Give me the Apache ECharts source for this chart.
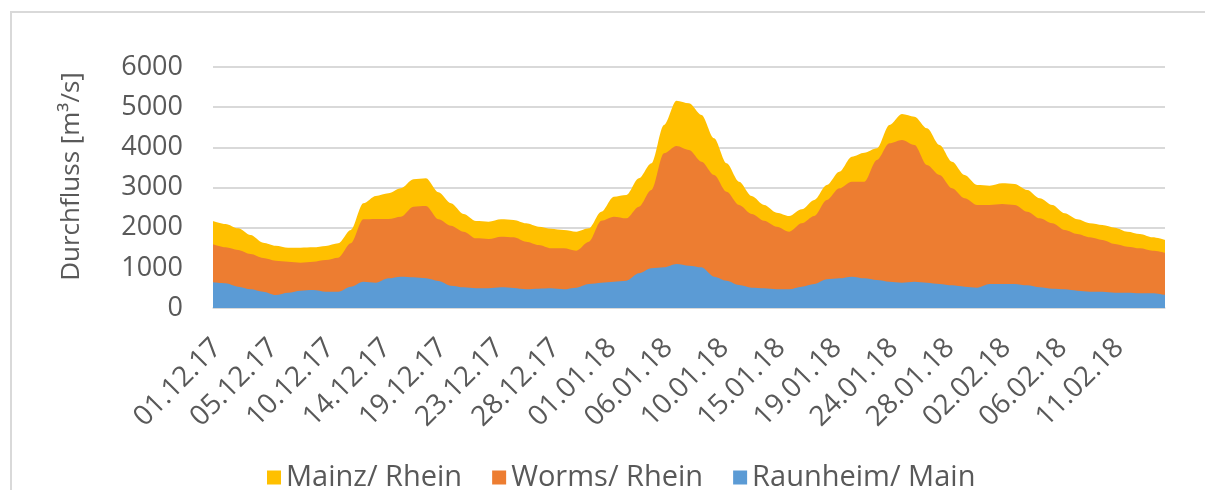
<!DOCTYPE html>
<html>
<head>
<meta charset="utf-8">
<script src="https://cdn.jsdelivr.net/npm/echarts@6/dist/echarts.min.js"></script>
<style>
  html, body { margin: 0; padding: 0; background: #fff; }
  #chart { width: 1205px; height: 490px; }
</style>
</head>
<body>
<div id="chart"></div>
<script>
// daily readings, day 0 = 01.12.17
const mainz = [
  2166, 2091, 1983, 1817, 1627, 1552, 1502, 1502, 1510, 1544,
  1610, 1942, 2606, 2788, 2855, 2979, 3203, 3228, 2880, 2606,
  2340, 2166, 2149, 2207, 2191, 2108, 2025, 1975, 1942, 1900,
  1983, 2398, 2772, 2813, 3228, 3602, 4556, 5162, 5095, 4805,
  4224, 3602, 3145, 2788, 2564, 2373, 2290, 2456, 2689, 3062,
  3394, 3768, 3867, 3975, 4556, 4830, 4763, 4473, 4058, 3643,
  3311, 3062, 3046, 3104, 3087, 2938, 2730, 2564, 2357, 2207,
  2108, 2066, 2000, 1900, 1842, 1759, 1693
]
const worms = [
  1585, 1510, 1444, 1344, 1245, 1178, 1154, 1129, 1154, 1195,
  1253, 1610, 2207, 2216, 2216, 2274, 2523, 2539, 2210, 2050,
  1900, 1734, 1718, 1776, 1759, 1651, 1568, 1485, 1485, 1427,
  1651, 2174, 2274, 2232, 2523, 2938, 3851, 4033, 3934, 3643,
  3311, 2896, 2564, 2340, 2174, 2025, 1900, 2108, 2290, 2689,
  2979, 3145, 3145, 3685, 4100, 4183, 4058, 3560, 3311, 2979,
  2730, 2564, 2564, 2589, 2564, 2398, 2232, 2108, 1942, 1842,
  1759, 1693, 1593, 1527, 1485, 1427, 1378
]
const raunheim = [
  639, 614, 531, 465, 407, 324, 382, 432, 448, 407,
  407, 531, 656, 631, 739, 780, 763, 739, 672, 556,
  515, 490, 490, 515, 498, 465, 481, 490, 465, 506,
  598, 631, 656, 680, 863, 988, 1012, 1095, 1054, 1012,
  780, 680, 573, 506, 490, 465, 465, 531, 598, 714,
  739, 780, 739, 697, 656, 631, 656, 631, 598, 564,
  531, 506, 598, 598, 598, 564, 515, 481, 465, 432,
  407, 407, 382, 382, 365, 365, 324
]
const xLabels = [
  '01.12.17', '05.12.17', '10.12.17', '14.12.17', '19.12.17', '23.12.17',
  '28.12.17', '01.01.18', '06.01.18', '10.01.18', '15.01.18', '19.01.18',
  '24.01.18', '28.01.18', '02.02.18', '06.02.18', '11.02.18'
]
const days = mainz.map((_, i) => i)

const chart = echarts.init(document.getElementById('chart'))
const font = 'Open Sans'

function areaSeries(name, values, color) {
  return {
    name,
    type: 'line',
    data: days.map((d, i) => [d, values[i]]),
    symbol: 'none',
    smooth: 0.3,
    smoothMonotone: 'x',
    lineStyle: { width: 0 },
    itemStyle: { color },
    areaStyle: { color, opacity: 1 },
  }
}

chart.setOption({
  backgroundColor: '#fff',
  animation: false,
  graphic: [{
    type: 'rect',
    shape: { x: 11, y: 12, width: 1220, height: 520 },
    style: { fill: 'none', stroke: '#d9d9d9', lineWidth: 2 },
    silent: true,
  }],
  legend: {
    data: ['Mainz/ Rhein', 'Worms/ Rhein', 'Raunheim/ Main'],
    left: 262,
    top: 458,
    icon: 'rect',
    itemWidth: 14,
    itemHeight: 14,
    itemGap: 30,
    textStyle: { color: '#595959', fontSize: 29, fontFamily: font },
  },
  grid: { left: 213, right: 40, top: 67, bottom: 182 },
  xAxis: {
    type: 'value',
    min: 0,
    max: 76,
    interval: 4.5,
    axisLine: { lineStyle: { color: '#d9d9d9', width: 1.5 } },
    axisTick: { show: false },
    splitLine: { show: false },
    axisLabel: {
      rotate: 45,
      margin: 20,
      align: 'right',
      verticalAlign: 'top',
      padding: [0, 8, 0, 0],
      color: '#595959',
      fontSize: 28,
      fontFamily: font,
      showMaxLabel: false,
      formatter: (v) => {
        const i = Math.round(v / 4.5)
        return Math.abs(i * 4.5 - v) < 0.01 && i < xLabels.length ? xLabels[i] : ''
      },
    },
  },
  yAxis: {
    type: 'value',
    min: 0,
    max: 6000,
    interval: 1000,
    name: 'Durchfluss [m³/s]',
    nameLocation: 'middle',
    nameGap: 128,
    nameTextStyle: { color: '#595959', fontSize: 26, fontFamily: font, padding: [0, 0, 0, 22] },
    axisLine: { show: false },
    axisTick: { show: false },
    splitLine: { lineStyle: { color: '#d9d9d9', width: 2 } },
    axisLabel: {
      color: '#595959',
      fontSize: 27,
      fontFamily: font,
      margin: 30,
      formatter: (v) => String(v),
    },
  },
  series: [
    areaSeries('Mainz/ Rhein', mainz, '#ffc000'),
    areaSeries('Worms/ Rhein', worms, '#ed7d31'),
    areaSeries('Raunheim/ Main', raunheim, '#5b9bd5'),
  ],
})
</script>
</body>
</html>
